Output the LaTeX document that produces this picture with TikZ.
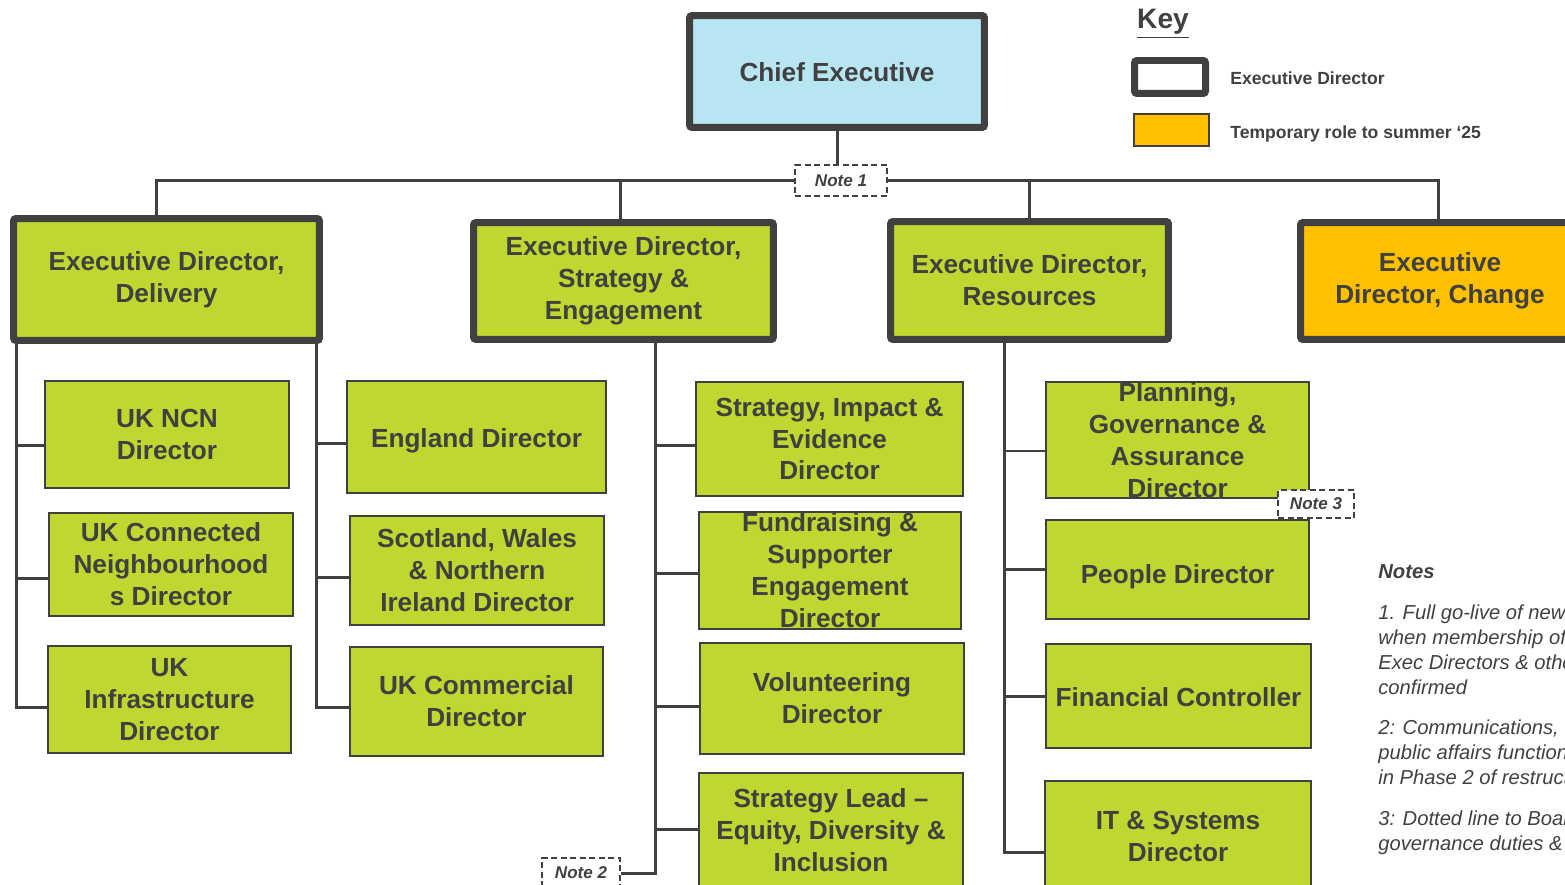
\documentclass[tikz,border=0pt]{standalone}
\usepackage{fontspec}
\setmainfont{Liberation Sans}
\definecolor{ink}{HTML}{404040}
\definecolor{lime}{HTML}{BFD730}
\definecolor{sky}{HTML}{B7E6F2}
\definecolor{amber}{HTML}{FFC000}

\begin{document}
\begin{tikzpicture}[x=0.02cm,y=-0.02cm,
  exec/.style={draw=ink,line width=0.14cm,rounded corners=0.05cm,fill=lime,inner sep=0pt,align=center,text=ink,font=\fontsize{14.9}{18.2}\selectfont\bfseries},
  unit/.style={draw=ink,line width=0.04cm,fill=lime,inner sep=0pt,align=center,text=ink,font=\fontsize{14.9}{18.2}\selectfont\bfseries},
  link/.style={draw=ink,line width=0.06cm},
  notetag/.style={draw=ink,dash pattern=on 0.12cm off 0.07cm,line width=0.03cm,fill=white,inner sep=0pt,text=ink,font=\fontsize{9.7}{11}\selectfont\bfseries\itshape}]
\useasboundingbox (0,0) rectangle (1565,885);
\clip (0,0) rectangle (1565,885);

% top of the tree
\node[exec,fill=sky,minimum width=5.9cm,minimum height=2.24cm,text height=11pt,text depth=0pt] (chief) at (837,71.5) {Chief Executive};
\node[notetag,minimum width=1.84cm,minimum height=0.62cm] (note1) at (841,180.5) {Note 1};
\node[exec,minimum width=6.12cm,minimum height=2.44cm] (edD) at (166.5,279.5) {Executive Director,\\Delivery};
\node[exec,minimum width=6cm,minimum height=2.34cm] (edS) at (623.5,281) {Executive Director,\\Strategy \&\\Engagement};
\node[exec,minimum width=5.56cm,minimum height=2.36cm] (edR) at (1029.5,280.5) {Executive Director,\\Resources};
\node[exec,fill=amber,minimum width=5.58cm,minimum height=2.34cm] (edC) at (1440,281) {Executive\\Director, Change};

\draw[link] (chief.south) -- (chief.south |- note1.north);
\draw[link] (note1.west) -| ([xshift=-0.21cm]edD.north);
\draw[link] (note1.west) -| ([xshift=-0.07cm]edS.north);
\draw[link] (note1.east) -| (edR.north);
\draw[link] (note1.east) -| ([xshift=-0.04cm]edC.north);

% delivery
\node[unit,minimum width=4.88cm,minimum height=2.14cm] (ncn) at (167,434.5) {UK NCN\\Director};
\node[unit,minimum width=4.88cm,minimum height=2.06cm] (ucn) at (171,564.5) {UK Connected\\Neighbourhood\\s Director};
\node[unit,minimum width=4.86cm,minimum height=2.14cm] (uki) at (169.5,699.5) {UK\\Infrastructure\\Director};
\node[unit,minimum width=5.18cm,minimum height=2.24cm,text height=11.8pt,text depth=0pt] (eng) at (476.5,437) {England Director};
\node[unit,minimum width=5.08cm,minimum height=2.18cm] (swni) at (477,570.5) {Scotland, Wales\\\& Northern\\Ireland Director};
\node[unit,minimum width=5.06cm,minimum height=2.18cm] (ukc) at (476.5,701.5) {UK Commercial\\Director};

\coordinate (dA) at ([xshift=0.12cm]edD.south west);
\coordinate (dB) at ([xshift=-0.12cm]edD.south east);
\draw[link] (dA) |- ([yshift=-0.21cm]ncn.west);
\draw[link] (dA) |- ([yshift=-0.27cm]ucn.west);
\draw[link] (dA) |- ([yshift=-0.15cm]uki.west);
\draw[link] (dB) |- ([yshift=-0.12cm]eng.west);
\draw[link] (dB) |- ([yshift=-0.13cm]swni.west);
\draw[link] (dB) |- ([yshift=-0.11cm]ukc.west);

% strategy & engagement
\node[unit,minimum width=5.34cm,minimum height=2.28cm] (sie) at (829.5,439) {Strategy, Impact \&\\Evidence\\Director};
\node[unit,minimum width=5.24cm,minimum height=2.34cm] (fse) at (830,570.5) {Fundraising \&\\Supporter\\Engagement\\Director};
\node[unit,minimum width=5.28cm,minimum height=2.22cm] (vol) at (832,698.5) {Volunteering\\Director};
\node[unit,minimum width=5.28cm,minimum height=2.3cm] (edi) at (831,830) {Strategy Lead --\\Equity, Diversity \&\\Inclusion};
\node[notetag,minimum width=1.56cm,minimum height=0.6cm] (note2) at (581,873) {Note 2};

\coordinate (dS) at ([xshift=0.63cm]edS.south);
\draw[link] (dS) |- ([yshift=-0.12cm]sie.west);
\draw[link] (dS) |- ([yshift=-0.05cm]fse.west);
\draw[link] (dS) |- ([yshift=-0.15cm]vol.west);
\draw[link] (dS) |- ([yshift=0.02cm]edi.west);
\draw[link] (note2.east) -| (dS);

% resources
\node[unit,minimum width=5.26cm,minimum height=2.32cm] (pga) at (1177.5,440) {Planning,\\Governance \&\\Assurance\\Director};
\node[unit,minimum width=5.26cm,minimum height=1.98cm,text height=15.8pt,text depth=0pt] (ppl) at (1177.5,569.5) {People Director};
\node[unit,minimum width=5.3cm,minimum height=2.08cm,text height=11.8pt,text depth=0pt] (fin) at (1178.5,696) {Financial Controller};
\node[unit,minimum width=5.32cm,minimum height=2.2cm] (its) at (1178,836) {IT \& Systems\\Director};
\node[notetag,minimum width=1.52cm,minimum height=0.56cm] (note3) at (1316,504) {Note 3};

\coordinate (dR) at ([xshift=-0.51cm]edR.south);
\draw[link] (dR) |- ([yshift=-0.22cm]pga.west);
\draw[link] (dR) |- (ppl.west);
\draw[link] (dR) |- (fin.west);
\draw[link] (dR) |- ([yshift=-0.32cm]its.west);

% key
\node[text=ink,font=\fontsize{16}{19}\selectfont\bfseries] (key) at (1163,24) {\underline{Key}};
\node[draw=ink,line width=0.14cm,rounded corners=0.05cm,fill=white,minimum width=1.42cm,minimum height=0.66cm] (keyExec) at (1170,77) {};
\node[draw=ink,line width=0.04cm,fill=amber,minimum width=1.5cm,minimum height=0.66cm] (keyTemp) at (1171,130) {};
\node[anchor=west,inner sep=0pt,text=ink,font=\fontsize{10}{12}\selectfont\bfseries] (keyExecTxt) at (1230,78) {Executive Director};
\node[anchor=west,inner sep=0pt,text=ink,font=\fontsize{10}{12}\selectfont\bfseries] (keyTempTxt) at (1230,134) {Temporary role to summer ‘25};

% notes
\node[anchor=north west,align=left,inner sep=0pt,text=ink,font=\fontsize{11.5}{14.2}\selectfont\itshape] (notes) at (1378,564)
  {\textbf{Notes}\\[0.32cm]
   1. Full go-live of new\\when membership of\\Exec Directors \& others\\confirmed\\[0.32cm]
   2: Communications,\\public affairs functions\\in Phase 2 of restructure\\[0.32cm]
   3: Dotted line to Board\\governance duties \&};
\end{tikzpicture}
\end{document}
